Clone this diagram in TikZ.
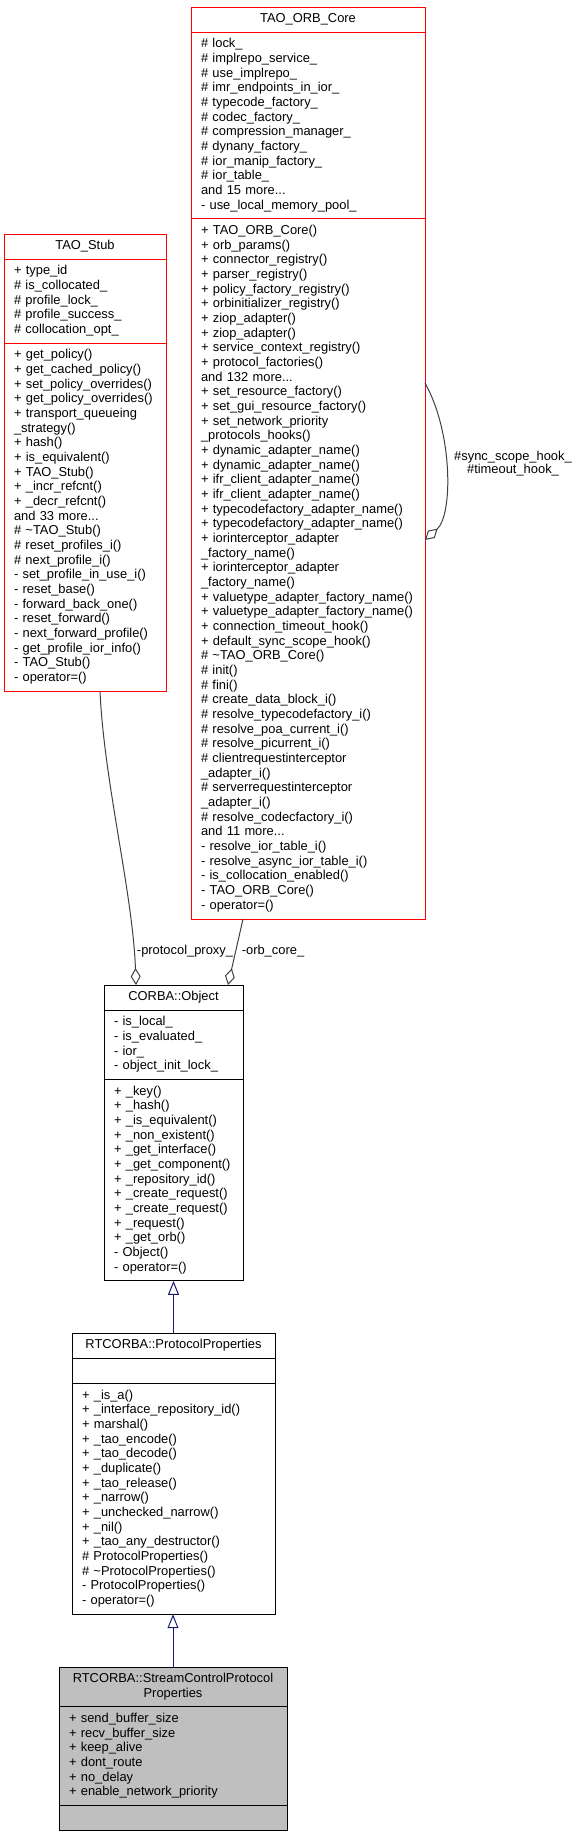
\documentclass[tikz,border=0pt]{standalone}
\usepackage{fontspec}
\setmainfont{Liberation Sans}
\usetikzlibrary{positioning,arrows.meta}
\definecolor{edgegray}{HTML}{404040}
\definecolor{inhblue}{HTML}{191970}
\definecolor{curgray}{HTML}{BFBFBF}
\newcommand{\clsfont}{\fontsize{12.9}{14.67}\selectfont}
\tikzset{
clspart/.style={draw, line width=1pt, outer sep=0pt, inner xsep=10pt, inner ysep=5.3pt, text width=#1, align=left, font=\clsfont, execute at begin node=\strut, execute at end node=\strut},
clshead/.style={clspart=#1, align=center},
aggr/.style={draw=edgegray, line width=1pt, {Diamond[open,length=17pt,width=10pt]}-},
inh/.style={draw=inhblue, line width=1pt, -{Triangle[open,length=14pt,width=11pt]}},
lbl/.style={font=\clsfont, inner sep=0pt}
}

\begin{document}
\begin{tikzpicture}[x=1pt,y=-1pt]
\useasboundingbox (0,0) rectangle (579,1837);

% TAO_Stub
\node[clshead=142pt, draw=red, anchor=north west] (stubT) at (4,234) {TAO\_Stub};
\node[clspart=142pt, draw=red, below=0pt of stubT] (stubA) {+ type\_id\\\# is\_collocated\_\\\# profile\_lock\_\\\# profile\_success\_\\\# collocation\_opt\_};
\node[clspart=142pt, draw=red, below=0pt of stubA] (stubM) {+ get\_policy()\\+ get\_cached\_policy()\\+ set\_policy\_overrides()\\+ get\_policy\_overrides()\\+ transport\_queueing\\\_strategy()\\+ hash()\\+ is\_equivalent()\\+ TAO\_Stub()\\+ \_incr\_refcnt()\\+ \_decr\_refcnt()\\and 33 more...\\\# \textasciitilde TAO\_Stub()\\\# reset\_profiles\_i()\\\# next\_profile\_i()\\- set\_profile\_in\_use\_i()\\- reset\_base()\\- forward\_back\_one()\\- reset\_forward()\\- next\_forward\_profile()\\- get\_profile\_ior\_info()\\- TAO\_Stub()\\- operator=()};

% TAO_ORB_Core
\node[clshead=214pt, draw=red, anchor=north west] (orbT) at (191,7) {TAO\_ORB\_Core};
\node[clspart=214pt, draw=red, below=0pt of orbT] (orbA) {\# lock\_\\\# implrepo\_service\_\\\# use\_implrepo\_\\\# imr\_endpoints\_in\_ior\_\\\# typecode\_factory\_\\\# codec\_factory\_\\\# compression\_manager\_\\\# dynany\_factory\_\\\# ior\_manip\_factory\_\\\# ior\_table\_\\and 15 more...\\- use\_local\_memory\_pool\_};
\node[clspart=214pt, draw=red, below=0pt of orbA] (orbM) {+ TAO\_ORB\_Core()\\+ orb\_params()\\+ connector\_registry()\\+ parser\_registry()\\+ policy\_factory\_registry()\\+ orbinitializer\_registry()\\+ ziop\_adapter()\\+ ziop\_adapter()\\+ service\_context\_registry()\\+ protocol\_factories()\\and 132 more...\\+ set\_resource\_factory()\\+ set\_gui\_resource\_factory()\\+ set\_network\_priority\\\_protocols\_hooks()\\+ dynamic\_adapter\_name()\\+ dynamic\_adapter\_name()\\+ ifr\_client\_adapter\_name()\\+ ifr\_client\_adapter\_name()\\+ typecodefactory\_adapter\_name()\\+ typecodefactory\_adapter\_name()\\+ iorinterceptor\_adapter\\\_factory\_name()\\+ iorinterceptor\_adapter\\\_factory\_name()\\+ valuetype\_adapter\_factory\_name()\\+ valuetype\_adapter\_factory\_name()\\+ connection\_timeout\_hook()\\+ default\_sync\_scope\_hook()\\\# \textasciitilde TAO\_ORB\_Core()\\\# init()\\\# fini()\\\# create\_data\_block\_i()\\\# resolve\_typecodefactory\_i()\\\# resolve\_poa\_current\_i()\\\# resolve\_picurrent\_i()\\\# clientrequestinterceptor\\\_adapter\_i()\\\# serverrequestinterceptor\\\_adapter\_i()\\\# resolve\_codecfactory\_i()\\and 11 more...\\- resolve\_ior\_table\_i()\\- resolve\_async\_ior\_table\_i()\\- is\_collocation\_enabled()\\- TAO\_ORB\_Core()\\- operator=()};

% CORBA::Object
\node[clshead=119pt, anchor=north west] (objT) at (104,985) {CORBA::Object};
\node[clspart=119pt, below=0pt of objT] (objA) {- is\_local\_\\- is\_evaluated\_\\- ior\_\\- object\_init\_lock\_};
\node[clspart=119pt, below=0pt of objA] (objM) {+ \_key()\\+ \_hash()\\+ \_is\_equivalent()\\+ \_non\_existent()\\+ \_get\_interface()\\+ \_get\_component()\\+ \_repository\_id()\\+ \_create\_request()\\+ \_create\_request()\\+ \_request()\\+ \_get\_orb()\\- Object()\\- operator=()};

% RTCORBA::ProtocolProperties
\node[clshead=183pt, anchor=north west] (ppT) at (72,1333) {RTCORBA::ProtocolProperties};
\node[clspart=183pt, below=0pt of ppT] (ppA) {};
\node[clspart=183pt, below=0pt of ppA] (ppM) {+ \_is\_a()\\+ \_interface\_repository\_id()\\+ marshal()\\+ \_tao\_encode()\\+ \_tao\_decode()\\+ \_duplicate()\\+ \_tao\_release()\\+ \_narrow()\\+ \_unchecked\_narrow()\\+ \_nil()\\+ \_tao\_any\_destructor()\\\# ProtocolProperties()\\\# \textasciitilde ProtocolProperties()\\- ProtocolProperties()\\- operator=()};

% RTCORBA::StreamControlProtocolProperties
\node[clshead=208pt, fill=curgray, anchor=north west] (scT) at (59,1667) {RTCORBA::StreamControlProtocol\\Properties};
\node[clspart=208pt, fill=curgray, below=0pt of scT] (scA) {+ send\_buffer\_size\\+ recv\_buffer\_size\\+ keep\_alive\\+ dont\_route\\+ no\_delay\\+ enable\_network\_priority};
\node[clspart=208pt, fill=curgray, below=0pt of scA] (scM) {};

% edges
\draw[inh] (ppT.north) -- (ppT.north |- objM.south);
\draw[inh] (scT.north) -- (scT.north |- ppM.south);
\draw[aggr] ([xshift=-37.5pt]objT.north) .. controls +(-3,-90) and +(4,90) .. ([xshift=15pt]stubM.south);
\draw[aggr] ([xshift=54.5pt]objT.north) -- ([xshift=-65pt]orbM.south);
\draw[aggr] ([yshift=29pt]orbM.east) .. controls +(28,-25) and +(28,50) .. ([yshift=186pt]orbM.east);

\node[lbl] (proxyL) at (185,951) {-protocol\_proxy\_};
\node[lbl] (coreL) at (273,951) {-orb\_core\_};
\node[lbl, align=center, font=\fontsize{12.9}{12}\selectfont] (hookL) at (513,464) {\#sync\_scope\_hook\_\\\#timeout\_hook\_};
\end{tikzpicture}
\end{document}
